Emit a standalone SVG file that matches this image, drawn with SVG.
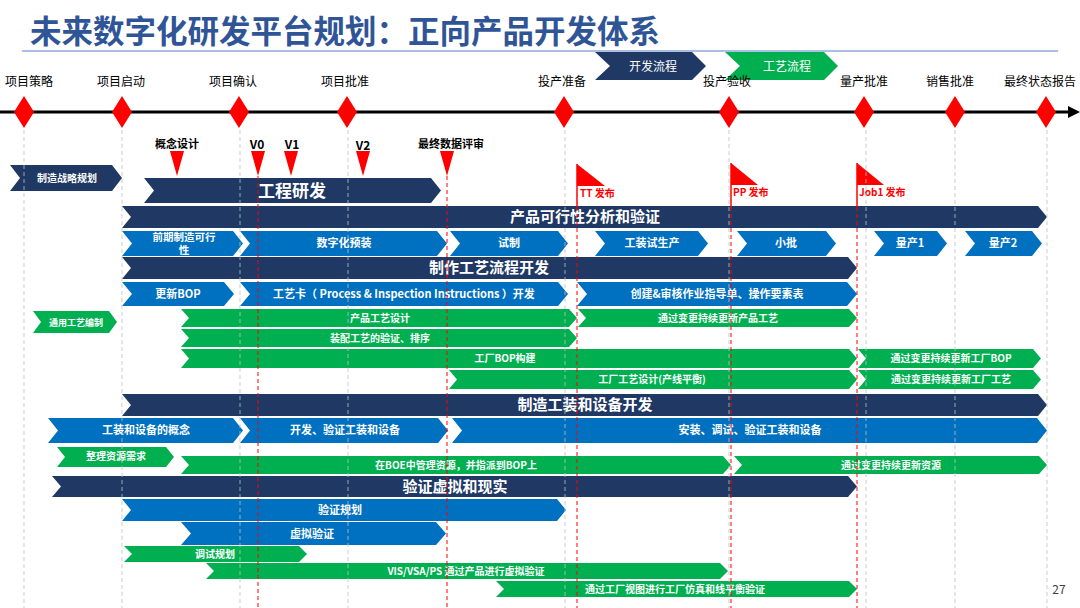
<svg xmlns="http://www.w3.org/2000/svg" width="1080" height="608" viewBox="0 0 1080 608">
<style>
text{font-family:"Noto Sans CJK SC","Liberation Sans",sans-serif}
.title{font-size:31.5px;font-weight:bold;fill:#2F5597}
.ms{font-size:12px;fill:#000}
.msb{font-size:11px;font-weight:bold;fill:#000}
.v{font-size:12px;font-weight:bold;fill:#000}
.flag{font-size:10px;font-weight:bold;fill:#FF0000}
.navy{fill:#1F3864}
.blue{fill:#0070C0}
.green{fill:#00B050}
.red{fill:#FF0000}
.th{font-size:15px;font-weight:bold;fill:#fff;text-anchor:middle}
.tb{font-size:11px;font-weight:bold;fill:#fff;text-anchor:middle}
.tg{font-size:10px;font-weight:bold;fill:#fff;text-anchor:middle}
.gd{stroke:#BFBFBF;stroke-width:1;stroke-dasharray:4 3;fill:none;opacity:0.8}
.rd{stroke:#FF0000;stroke-width:1;stroke-dasharray:4 3;fill:none}
</style>
<rect width="1080" height="608" fill="#fff"/>
<g id="title">
<text class="title" x="30" y="43">未来数字化研发平台规划：正向产品开发体系</text>
<line x1="22" y1="51" x2="1058" y2="51" stroke="#8FAADC" stroke-width="1.5"/>
</g>
<g id="legend">
<path class="navy" d="M595,52 L692,52 L706,66 L692,80 L595,80 L610,66 Z"/>
<text x="653" y="71" class="tb" style="font-size:12px;font-weight:normal">开发流程</text>
<path class="green" d="M725,52 L824,52 L838,66 L824,80 L725,80 L740,66 Z"/>
<text x="787" y="71" class="tb" style="font-size:12px;font-weight:normal">工艺流程</text>
</g>
<g id="timeline">
<line x1="0" y1="112" x2="1070" y2="112" stroke="#000" stroke-width="3"/>
<polygon points="1068,106 1080,112 1068,118" fill="#000"/>
<g class="red">
<polygon points="24,96 34,112 24,128 14,112"/>
<polygon points="122,96 132,112 122,128 112,112"/>
<polygon points="239,96 249,112 239,128 229,112"/>
<polygon points="347,96 357,112 347,128 337,112"/>
<polygon points="564,96 574,112 564,128 554,112"/>
<polygon points="729,96 739,112 729,128 719,112"/>
<polygon points="864,96 874,112 864,128 854,112"/>
<polygon points="955,96 965,112 955,128 945,112"/>
<polygon points="1046,96 1056,112 1046,128 1036,112"/>
</g>
<g class="ms" text-anchor="middle">
<text x="29" y="86">项目策略</text>
<text x="121" y="86">项目启动</text>
<text x="233" y="86">项目确认</text>
<text x="345" y="86">项目批准</text>
<text x="562" y="86">投产准备</text>
<text x="727" y="86">投产验收</text>
<text x="864" y="86">量产批准</text>
<text x="950" y="86">销售批准</text>
<text x="1040" y="86">最终状态报告</text>
</g>
</g>
<g id="n-zlzl"><path class="navy" d="M10,165 L112,165 L122,178 L112,191 L10,191 L20,178 Z"/><text class="tb" x="67" y="182" style="font-size:10px">制造战略规划</text></g>
<g id="n-gcyf"><path class="navy" d="M144,178 L431,178 L441,190.5 L431,203 L144,203 L154,190.5 Z"/><text class="th" x="292" y="197" style="font-size:17px">工程研发</text></g>
<g id="n-cpkx"><path class="navy" d="M122,206 L1038,206 L1047,217 L1038,228 L122,228 L131,217 Z"/><text class="th" x="585" y="222">产品可行性分析和验证</text></g>
<g id="n-qqzz"><path class="blue" d="M122,231 L233,231 L243,243.5 L233,256 L122,256 L132,243.5 Z"/><text class="tb" x="184" y="240.5" style="font-size:10.5px">前期制造可行</text><text class="tb" x="184" y="254" style="font-size:10.5px">性</text></g>
<g id="n-szhyz"><path class="blue" d="M240,231 L437,231 L447,243.5 L437,256 L240,256 L250,243.5 Z"/><text class="tb" x="344" y="247">数字化预装</text></g>
<g id="n-sz"><path class="blue" d="M450,231 L558,231 L568,243.5 L558,256 L450,256 L460,243.5 Z"/><text class="tb" x="509" y="247">试制</text></g>
<g id="n-gzssc"><path class="blue" d="M595,231 L698,231 L708,243.5 L698,256 L595,256 L605,243.5 Z"/><text class="tb" x="652" y="247">工装试生产</text></g>
<g id="n-xp"><path class="blue" d="M737,231 L826,231 L836,243.5 L826,256 L737,256 L747,243.5 Z"/><text class="tb" x="786" y="247">小批</text></g>
<g id="n-lc1"><path class="blue" d="M874,231 L937,231 L947,243.5 L937,256 L874,256 L884,243.5 Z"/><text class="tb" x="910" y="247">量产1</text></g>
<g id="n-lc2"><path class="blue" d="M965,231 L1032,231 L1042,243.5 L1032,256 L965,256 L975,243.5 Z"/><text class="tb" x="1003" y="247">量产2</text></g>
<g id="n-zzgy"><path class="navy" d="M122,257 L848,257 L857,268 L848,279 L122,279 L131,268 Z"/><text class="th" x="489" y="273">制作工艺流程开发</text></g>
<g id="n-gxbop"><path class="blue" d="M122,282 L224,282 L234,294 L224,306 L122,306 L132,294 Z"/><text class="tb" x="178" y="298">更新BOP</text></g>
<g id="n-gyk"><path class="blue" d="M240,282 L558,282 L568,294 L558,306 L240,306 L250,294 Z"/><text class="tb" x="404" y="298">工艺卡（ Process &amp; Inspection Instructions ）开发</text></g>
<g id="n-cjsh"><path class="blue" d="M577,282 L847,282 L857,294 L847,306 L577,306 L587,294 Z"/><text class="tb" x="717" y="298">创建&amp;审核作业指导单、操作要素表</text></g>
<g id="n-tygy"><path class="green" d="M33,311 L109,311 L117,322 L109,333 L33,333 L41,322 Z"/><text class="tg" x="76" y="326" style="font-size:9px">通用工艺编制</text></g>
<g id="n-cpgy"><path class="green" d="M181,309 L569,309 L577,318 L569,327 L181,327 L189,318 Z"/><text class="tg" x="380" y="322">产品工艺设计</text></g>
<g id="n-bgcp"><path class="green" d="M578,309 L849,309 L857,318 L849,327 L578,327 L586,318 Z"/><text class="tg" x="718" y="322">通过变更持续更新产品工艺</text></g>
<g id="n-zpgy"><path class="green" d="M181,329 L569,329 L577,338 L569,347 L181,347 L189,338 Z"/><text class="tg" x="380" y="342">装配工艺的验证、排序</text></g>
<g id="n-gcbop"><path class="green" d="M181,349 L849,349 L857,358.5 L849,368 L181,368 L189,358.5 Z"/><text class="tg" x="505" y="362">工厂BOP构建</text></g>
<g id="n-bgbop"><path class="green" d="M858,349 L1033,349 L1041,358.5 L1033,368 L858,368 L866,358.5 Z"/><text class="tg" x="951" y="362">通过变更持续更新工厂BOP</text></g>
<g id="n-gcgy"><path class="green" d="M449,370 L849,370 L857,379.5 L849,389 L449,389 L457,379.5 Z"/><text class="tg" x="652" y="383">工厂工艺设计(产线平衡)</text></g>
<g id="n-bggc"><path class="green" d="M858,370 L1033,370 L1041,379.5 L1033,389 L858,389 L866,379.5 Z"/><text class="tg" x="951" y="383">通过变更持续更新工厂工艺</text></g>
<g id="n-zzgz"><path class="navy" d="M122,394 L1038,394 L1047,405 L1038,416 L122,416 L131,405 Z"/><text class="th" x="585" y="410">制造工装和设备开发</text></g>
<g id="n-gzgn"><path class="blue" d="M48,418 L233,418 L243,430.5 L233,443 L48,443 L58,430.5 Z"/><text class="tb" x="146" y="434">工装和设备的概念</text></g>
<g id="n-kfyz"><path class="blue" d="M240,418 L438,418 L448,430.5 L438,443 L240,443 L250,430.5 Z"/><text class="tb" x="345" y="434">开发、验证工装和设备</text></g>
<g id="n-aztz"><path class="blue" d="M452,418 L1037,418 L1047,430.5 L1037,443 L452,443 L462,430.5 Z"/><text class="tb" x="750" y="434">安装、调试、验证工装和设备</text></g>
<g id="n-zlzy"><path class="green" d="M57,447 L166,447 L174,457 L166,467 L57,467 L65,457 Z"/><text class="tg" x="116" y="460">整理资源需求</text></g>
<g id="n-boe"><path class="green" d="M181,456 L723,456 L731,465 L723,474 L181,474 L189,465 Z"/><text class="tg" x="456" y="469">在BOE中管理资源，并指派到BOP上</text></g>
<g id="n-bgzy"><path class="green" d="M734,456 L1039,456 L1047,465 L1039,474 L734,474 L742,465 Z"/><text class="tg" x="891" y="469">通过变更持续更新资源</text></g>
<g id="n-yzxn"><path class="navy" d="M52,476 L848,476 L857,486.5 L848,497 L52,497 L61,486.5 Z"/><text class="th" x="455" y="492">验证虚拟和现实</text></g>
<g id="n-yzgh"><path class="blue" d="M122,499 L557,499 L566,510 L557,521 L122,521 L131,510 Z"/><text class="tb" x="340" y="514">验证规划</text></g>
<g id="n-xnyz"><path class="blue" d="M181,522 L436,522 L446,533.5 L436,545 L181,545 L191,533.5 Z"/><text class="tb" x="312" y="538">虚拟验证</text></g>
<g id="n-tsgh"><path class="green" d="M124,546 L299,546 L307,554 L299,562 L124,562 L132,554 Z"/><text class="tg" x="215" y="558">调试规划</text></g>
<g id="n-vis"><path class="green" d="M206,563 L720,563 L728,571 L720,579 L206,579 L214,571 Z"/><text class="tg" x="466" y="575">VIS/VSA/PS 通过产品进行虚拟验证</text></g>
<g id="n-gcst"><path class="green" d="M496,581 L849,581 L857,589 L849,597 L496,597 L504,589 Z"/><text class="tg" x="675" y="593">通过工厂视图进行工厂仿真和线平衡验证</text></g>
<g id="milestones">
<g class="red">
<polygon points="170,151 184,151 177,176"/>
<polygon points="251,151 265,151 258,176"/>
<polygon points="284,151 298,151 291,176"/>
<polygon points="356,151 370,151 363,176"/>
<polygon points="440,151 454,151 447,176"/>
</g>
<text class="msb" x="177" y="148" text-anchor="middle">概念设计</text>
<text class="v" x="257" y="149" text-anchor="middle">V0</text>
<text class="v" x="292" y="149" text-anchor="middle">V1</text>
<text class="v" x="363" y="150" text-anchor="middle">V2</text>
<text class="msb" x="451" y="148" text-anchor="middle">最终数据评审</text>
</g>
<g id="flags">
<line x1="577" y1="164" x2="577" y2="207" stroke="#FF0000" stroke-width="1.5"/>
<polygon class="red" points="577,164 605,186 577,186"/>
<text class="flag" x="580" y="197">TT 发布</text>
<line x1="731" y1="163" x2="731" y2="207" stroke="#FF0000" stroke-width="1.5"/>
<polygon class="red" points="731,163 758,185 731,185"/>
<text class="flag" x="733" y="196">PP 发布</text>
<line x1="857" y1="163" x2="857" y2="207" stroke="#FF0000" stroke-width="1.5"/>
<polygon class="red" points="857,163 884,185 857,185"/>
<text class="flag" x="859" y="196">Job1 发布</text>
</g>
<g id="connectors">
<line class="gd" x1="24" y1="130" x2="24" y2="608"/>
<line class="gd" x1="122" y1="130" x2="122" y2="608"/>
<line class="gd" x1="240" y1="130" x2="240" y2="608"/>
<line class="gd" x1="348" y1="130" x2="348" y2="608"/>
<line class="gd" x1="565" y1="130" x2="565" y2="608"/>
<line class="gd" x1="729" y1="130" x2="729" y2="608"/>
<line class="gd" x1="866" y1="130" x2="866" y2="608"/>
<line class="gd" x1="955" y1="130" x2="955" y2="608"/>
<line class="gd" x1="1047" y1="130" x2="1047" y2="608"/>
<line class="rd" x1="258" y1="176" x2="258" y2="608"/>
<line class="rd" x1="447" y1="176" x2="447" y2="608"/>
<line class="rd" x1="577" y1="207" x2="577" y2="608"/>
<line class="rd" x1="731" y1="207" x2="731" y2="608"/>
<line class="rd" x1="857" y1="207" x2="857" y2="608"/>
</g>
<text x="1059" y="594" font-size="12" fill="#404040" text-anchor="middle">27</text>
</svg>
